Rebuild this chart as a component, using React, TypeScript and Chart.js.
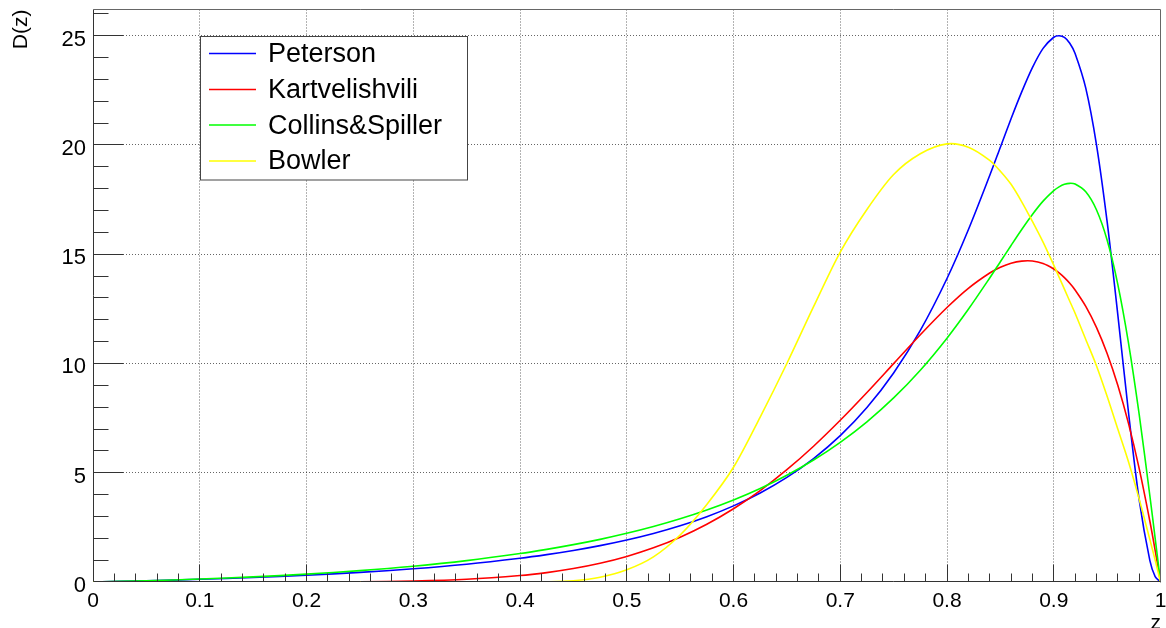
import React, { useEffect, useRef } from 'react';
import { Chart, registerables } from 'chart.js';

Chart.register(...registerables);

// ---- data ----
const zValues = [0, 0.05, 0.1, 0.15, 0.2, 0.25, 0.3, 0.35, 0.4, 0.425, 0.45, 0.475, 0.5, 0.525, 0.55, 0.575, 0.6, 0.625, 0.65, 0.675, 0.7, 0.725, 0.75, 0.775, 0.8, 0.82, 0.84, 0.85, 0.86, 0.87, 0.88, 0.89, 0.9, 0.905, 0.91, 0.915, 0.92, 0.93, 0.94, 0.95, 0.96, 0.97, 0.98, 0.99, 0.995, 1];

const peterson = [0, 0.055, 0.123, 0.207, 0.31, 0.44, 0.605, 0.815, 1.087, 1.253, 1.444, 1.665, 1.922, 2.222, 2.574, 2.99, 3.484, 4.074, 4.785, 5.646, 6.696, 7.983, 9.567, 11.513, 13.89, 16.12, 18.6, 19.9, 21.2, 22.43, 23.54, 24.42, 24.93, 25.0, 24.92, 24.655, 24.19, 22.6, 20.02, 16.49, 12.24, 7.77, 3.77, 0.99, 0.25, 0];

const kartvelishvili = [0, 0, 0, 0.0004, 0.003, 0.014, 0.046, 0.125, 0.294, 0.431, 0.616, 0.858, 1.17, 1.564, 2.052, 2.645, 3.354, 4.184, 5.139, 6.214, 7.4, 8.672, 9.994, 11.316, 12.562, 13.44, 14.141, 14.4, 14.588, 14.685, 14.688, 14.572, 14.325, 14.146, 13.929, 13.67, 13.366, 12.615, 11.653, 10.458, 9.002, 7.26, 5.2, 2.791, 1.446, 0];

const collinsSpiller = [0, 0.058, 0.134, 0.233, 0.36, 0.52, 0.723, 0.979, 1.301, 1.493, 1.709, 1.952, 2.228, 2.539, 2.893, 3.295, 3.755, 4.281, 4.886, 5.584, 6.392, 7.331, 8.423, 9.692, 11.16, 12.48, 13.911, 14.655, 15.401, 16.132, 16.819, 17.429, 17.909, 18.083, 18.198, 18.245, 18.213, 17.859, 17.036, 15.647, 13.623, 10.945, 7.678, 3.959, 1.995, 0];

const bowler = [0, 0, 0, 0, 0, 0, 0, 0, 0, 0.01, 0.06, 0.22, 0.56, 1.15, 2.15, 3.55, 5.25, 7.55, 10.0, 12.6, 15.1, 17.05, 18.65, 19.6, 20.05, 19.9, 19.3, 18.8, 18.2, 17.4, 16.5, 15.55, 14.5, 13.95, 13.4, 12.85, 12.3, 11.1, 9.9, 8.5, 7.0, 5.5, 3.8, 1.95, 1.0, 0];

const seriesNames = ['Peterson', 'Kartvelishvili', 'Collins&Spiller', 'Bowler'];
const seriesColors = ['#0000ff', '#ff0000', '#00ff00', '#ffff00'];

const xTickValues = [0, 0.1, 0.2, 0.3, 0.4, 0.5, 0.6, 0.7, 0.8, 0.9, 1];
const xTickLabels = ['0', '0.1', '0.2', '0.3', '0.4', '0.5', '0.6', '0.7', '0.8', '0.9', '1'];
const yTickValues = [0, 5, 10, 15, 20, 25];
const yTickLabels = ['0', '5', '10', '15', '20', '25'];
const xTitle = 'z';
const yTitle = 'D(z)';

const X_MIN = 0;
const X_MAX = 1;
const Y_MIN = 0;
const Y_MAX = 26.2;

const FONT = '"Liberation Sans", Arial, Helvetica, sans-serif';

const rootStyle = {
  id: 'rootStyle',
  beforeDatasetsDraw(chart: any) {
    const { ctx, chartArea: a, scales } = chart;
    const x = scales.x;
    const y = scales.y;
    ctx.save();
    ctx.strokeStyle = 'rgba(0,0,0,0.6)';
    ctx.lineWidth = 1;
    ctx.setLineDash([1, 2]);
    xTickValues.forEach((v) => {
      if (v <= X_MIN || v >= X_MAX) return;
      const px = Math.floor(x.getPixelForValue(v)) + 0.5;
      ctx.beginPath();
      ctx.moveTo(px, a.top);
      ctx.lineTo(px, a.bottom);
      ctx.stroke();
    });
    yTickValues.forEach((v) => {
      if (v <= Y_MIN) return;
      const py = Math.floor(y.getPixelForValue(v)) + 0.5;
      ctx.beginPath();
      ctx.moveTo(a.left, py);
      ctx.lineTo(a.right, py);
      ctx.stroke();
    });
    ctx.restore();
  },
  afterDatasetsDraw(chart: any) {
    const { ctx, chartArea: a, scales } = chart;
    const x = scales.x;
    const y = scales.y;
    ctx.save();
    ctx.setLineDash([]);
    // frame
    ctx.strokeStyle = '#666';
    ctx.lineWidth = 1;
    ctx.beginPath();
    ctx.moveTo(Math.floor(a.left) + 0.5, Math.floor(a.top) + 0.5);
    ctx.lineTo(Math.floor(a.right) + 0.5, Math.floor(a.top) + 0.5);
    ctx.lineTo(Math.floor(a.right) + 0.5, Math.floor(a.bottom) + 0.5);
    ctx.stroke();
    // axes
    ctx.strokeStyle = '#333';
    const ax = Math.floor(a.left) + 0.5;
    const ay = Math.floor(a.bottom) - 0.5;
    ctx.beginPath();
    ctx.moveTo(ax, a.top);
    ctx.lineTo(ax, ay);
    ctx.lineTo(a.right, ay);
    ctx.stroke();
    // x ticks (inside)
    const nx = 50;
    for (let i = 1; i < nx; i++) {
      const v = X_MIN + ((X_MAX - X_MIN) * i) / nx;
      const px = Math.floor(x.getPixelForValue(v)) + 0.5;
      const len = i % 5 === 0 ? 17 : 8;
      ctx.beginPath();
      ctx.moveTo(px, ay);
      ctx.lineTo(px, ay - len);
      ctx.stroke();
    }
    // y ticks (inside)
    for (let v = 1; v <= Math.floor(Y_MAX); v++) {
      const py = Math.floor(y.getPixelForValue(v)) + 0.5;
      const len = v % 5 === 0 ? 30 : 15;
      ctx.beginPath();
      ctx.moveTo(ax, py);
      ctx.lineTo(ax + len, py);
      ctx.stroke();
    }
    // tick labels
    ctx.fillStyle = '#000';
    ctx.font = `21px ${FONT}`;
    ctx.textAlign = 'center';
    ctx.textBaseline = 'alphabetic';
    xTickValues.forEach((v, i) => {
      ctx.fillText(xTickLabels[i], x.getPixelForValue(v), 606.5);
    });
    ctx.font = `22px ${FONT}`;
    ctx.textAlign = 'right';
    yTickValues.forEach((v, i) => {
      ctx.fillText(yTickLabels[i], 86, y.getPixelForValue(v) + 9.8);
    });
    // axis titles
    ctx.font = `21px ${FONT}`;
    ctx.textAlign = 'right';
    ctx.fillText(xTitle, a.right + 0.5, 628.5);
    ctx.save();
    ctx.translate(27, a.top);
    ctx.rotate(-Math.PI / 2);
    ctx.textAlign = 'right';
    ctx.fillText(yTitle, 0, 0);
    ctx.restore();
    // legend
    const lx = 200.5, ly = 36.5, lw = 267, lh = 143.5;
    ctx.fillStyle = '#fff';
    ctx.fillRect(lx, ly, lw, lh);
    ctx.strokeStyle = '#444';
    ctx.lineWidth = 1;
    ctx.strokeRect(lx, ly, lw, lh);
    const lineYs = [53.5, 89.5, 125, 161];
    const textYs = [62.3, 98, 133.5, 169.3];
    ctx.font = `27px ${FONT}`;
    ctx.textAlign = 'left';
    ctx.textBaseline = 'alphabetic';
    chart.data.datasets.forEach((ds: any, i: number) => {
      ctx.strokeStyle = ds.borderColor;
      ctx.lineWidth = 1.6;
      ctx.beginPath();
      ctx.moveTo(209, lineYs[i]);
      ctx.lineTo(256, lineYs[i]);
      ctx.stroke();
      ctx.fillStyle = '#000';
      ctx.fillText(ds.label, 268, textYs[i]);
    });
    ctx.restore();
  },
};

export default function App() {
  const canvasRef = useRef<HTMLCanvasElement | null>(null);

  useEffect(() => {
    const canvas = canvasRef.current;
    if (!canvas) return;
    const seriesValues = [peterson, kartvelishvili, collinsSpiller, bowler];
    const datasets = seriesValues.map((vals, i) => ({
      label: seriesNames[i],
      data: zValues.map((z, j) => ({ x: z, y: vals[j] })),
      borderColor: seriesColors[i],
      backgroundColor: seriesColors[i],
      borderWidth: 1.6,
      pointRadius: 0,
      showLine: true,
      fill: false,
      tension: 0.3,
      order: seriesNames.length - i,
    }));
    const chart = new Chart(canvas, {
      type: 'scatter',
      data: { datasets },
      options: {
        animation: false,
        responsive: false,
        maintainAspectRatio: false,
        devicePixelRatio: 1,
        layout: { padding: { left: 93, right: 5.5, top: 9.5, bottom: 46 } },
        scales: {
          x: { type: 'linear', min: X_MIN, max: X_MAX, display: false },
          y: { type: 'linear', min: Y_MIN, max: Y_MAX, display: false },
        },
        plugins: {
          legend: { display: false },
          tooltip: { enabled: false },
        },
      },
      plugins: [rootStyle],
    });
    return () => chart.destroy();
  }, []);

  return (
    <div style={{ position: 'absolute', left: 0, top: 0, width: 1166, height: 628, background: '#fff' }}>
      <canvas ref={canvasRef} width={1166} height={628} />
    </div>
  );
}
